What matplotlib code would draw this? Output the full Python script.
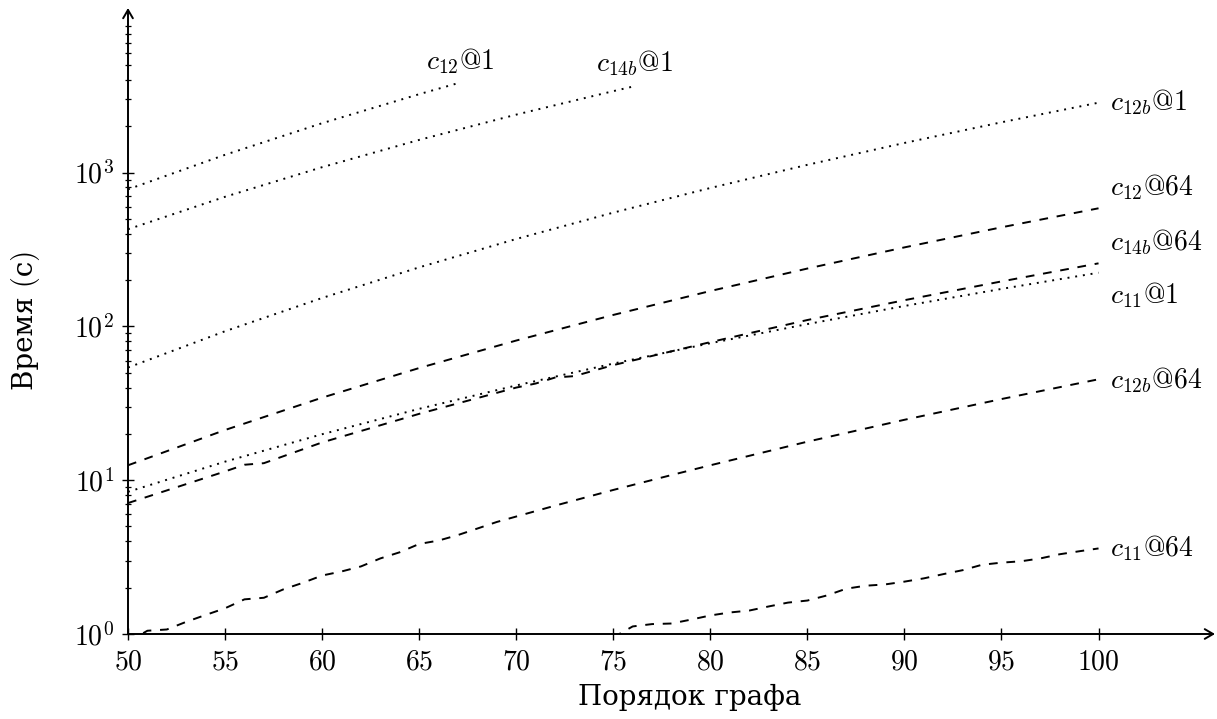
import matplotlib
matplotlib.use("Agg")
import matplotlib.pyplot as plt
from matplotlib.ticker import FixedLocator, FixedFormatter, NullFormatter

plt.rcParams['mathtext.fontset'] = 'cm'
plt.rcParams['font.family'] = ['cmr10', 'DejaVu Serif']
plt.rcParams['axes.unicode_minus'] = False

FS = 20

# --- данные ---
x_c12_1 = [50, 55, 60, 65, 67]
y_c12_1 = [778, 1305, 2094, 3233, 3813]

x_c14b_1 = [50, 55, 60, 65, 70, 75, 76]
y_c14b_1 = [428, 696, 1084, 1631, 2381, 3384, 3621]

x_c12b_1 = [50, 55, 60, 65, 70, 75, 80, 85, 90, 95, 100]
y_c12b_1 = [54, 93, 153, 242, 370, 549, 794, 1123, 1558, 2123, 2847]

x_c11_1 = [50, 55, 60, 65, 70, 75, 80, 85, 90, 95, 100]
y_c11_1 = [8.4, 13.2, 19.9, 29.1, 41.3, 57.3, 77.7, 103.5, 135.7, 175.2, 223.3]

x_c12_64 = [50, 55, 60, 65, 70, 75, 80, 85, 90, 95, 100]
y_c12_64 = [12.5, 21.2, 34.4, 53.6, 80.9, 118.7, 169.8, 237.7, 326.3, 440.8, 585.8]

x_c14b_64 = [50, 55, 56, 57, 60, 65, 70, 71, 72, 73, 75, 80, 85, 90, 95, 100]
y_c14b_64 = [7.1, 11.4, 12.6, 12.9, 17.6, 27.0, 40.0, 42.5, 46.5, 47.5, 56, 79, 110, 148, 196, 257]

x_c12b_64 = [50, 51, 52, 53, 54, 55, 56, 57, 58, 59, 60, 61, 62, 63, 64, 65, 66, 67, 68, 69,
             72, 75, 78, 80, 85, 90, 95, 100]
y_c12b_64 = [0.89, 1.05, 1.07, 1.2, 1.33, 1.47, 1.68, 1.72, 1.95, 2.15, 2.4, 2.55, 2.75, 3.1,
             3.4, 3.85, 4.05, 4.4, 4.85, 5.35, 6.83, 8.64, 10.8, 12.5, 17.8, 24.7, 33.7, 45.3]

x_c11_64 = list(range(75, 101))
y_c11_64 = [0.95, 1.12, 1.16, 1.17, 1.24, 1.32, 1.38, 1.42, 1.51, 1.6, 1.65, 1.78, 1.97,
            2.06, 2.1, 2.19, 2.3, 2.45, 2.6, 2.82, 2.91, 2.97, 3.1, 3.3, 3.45, 3.6]

x_ticks = [50, 55, 60, 65, 70, 75, 80, 85, 90, 95, 100]
y_ticks = [1, 10, 100, 1000]
y_tick_labels = [r'$10^{0}$', r'$10^{1}$', r'$10^{2}$', r'$10^{3}$']

DOT = (0, (1, 3))
DASH = (0, (4.5, 4.5))

# (x, y, стиль, подпись, смещение подписи в пикселях, выравнивание)
series = [
    (x_c12_1, y_c12_1, DOT, r'$c_{12}$@1', (2, 22), 'center'),
    (x_c14b_1, y_c14b_1, DOT, r'$c_{14b}$@1', (2, 23), 'center'),
    (x_c12b_1, y_c12b_1, DOT, r'$c_{12b}$@1', (11, 1), 'left'),
    (x_c12_64, y_c12_64, DASH, r'$c_{12}$@64', (11, 21), 'left'),
    (x_c14b_64, y_c14b_64, DASH, r'$c_{14b}$@64', (11, 21), 'left'),
    (x_c11_1, y_c11_1, DOT, r'$c_{11}$@1', (11, -22), 'left'),
    (x_c12b_64, y_c12b_64, DASH, r'$c_{12b}$@64', (11, -1), 'left'),
    (x_c11_64, y_c11_64, DASH, r'$c_{11}$@64', (11, 0), 'left'),
]

fig = plt.figure(figsize=(12.17, 7.19), dpi=100)
ax = fig.add_axes([128 / 1217, 85 / 719, 1087 / 1217, 626 / 719])

for xs, ys, ls, lab, off, ha in series:
    ax.plot(xs, ys, color='black', lw=1.4, linestyle=ls)
    ax.annotate(lab, xy=(xs[-1], ys[-1]), xytext=off, textcoords='offset pixels',
                ha=ha, va='center', fontsize=FS)

ax.set_yscale('log')
ax.set_xlim(50, 106)
ax.set_ylim(1, 10 ** 4.07)

ax.xaxis.set_major_locator(FixedLocator(x_ticks))
ax.xaxis.set_major_formatter(FixedFormatter([r'$%d$' % v for v in x_ticks]))
ax.yaxis.set_major_locator(FixedLocator(y_ticks))
ax.yaxis.set_major_formatter(FixedFormatter(y_tick_labels))
minors = [m * 10 ** d for d in range(4) for m in range(2, 10)]
ax.yaxis.set_minor_locator(FixedLocator(minors))
ax.yaxis.set_minor_formatter(NullFormatter())
ax.xaxis.set_minor_locator(FixedLocator([]))

ax.tick_params(which='major', direction='inout', length=8.5, width=1.0, labelsize=FS,
               top=False, right=False)
ax.tick_params(axis='y', which='major', pad=6)
ax.tick_params(axis='x', which='major', pad=7)
ax.tick_params(which='minor', direction='inout', length=5, width=0.9, top=False, right=False)

for s in ax.spines.values():
    s.set_visible(False)

arrow = dict(arrowstyle='->,head_length=0.6,head_width=0.35', lw=1.4, color='black',
             shrinkA=0, shrinkB=0)
ax.annotate('', xy=(1, 0), xytext=(0, 0), xycoords='axes fraction', arrowprops=arrow)
ax.annotate('', xy=(0, 1), xytext=(0, 0), xycoords='axes fraction', arrowprops=arrow)

fig.text(690 / 1217, 1 - 697 / 719, 'Порядок графа', ha='center', va='center', fontsize=FS)
fig.text(25 / 1217, 1 - 320 / 719, 'Время (с)', ha='center', va='center', fontsize=FS,
         rotation=90)

fig.savefig('out.png', dpi=100)
